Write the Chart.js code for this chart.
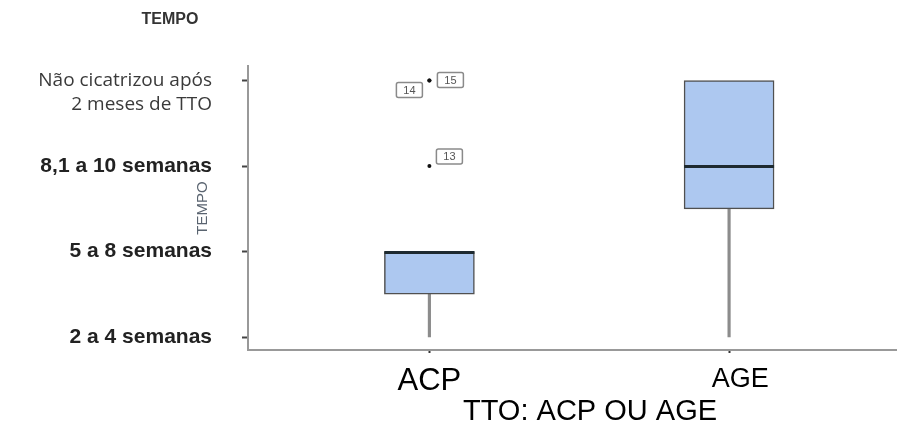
<!DOCTYPE html>
<html>
<head>
<meta charset="utf-8">
<script src="https://cdn.jsdelivr.net/npm/chart.js@4.4.1/dist/chart.umd.min.js"></script>
<style>
  html, body { margin: 0; padding: 0; background: #ffffff; }
  #wrap { width: 900px; height: 421px; position: relative; }
</style>
</head>
<body>
<div id="wrap"><canvas id="c" width="900" height="421"></canvas></div>
<script>
// ---- data ----
const categories = ['ACP', 'AGE'];
const whiskerLow = [1, 1];
const q1 = [1.5, 2.5];
const median = [2, 3];
const q3 = [2, 4];
const whiskerHigh = [2, 4];
const outlierCategory = ['ACP', 'ACP', 'ACP'];
const outlierValue = [3, 4, 4];
const outlierId = ['13', '14', '15'];
const yTickValues = [1, 2, 3, 4];
const yTickLabels = ['2 a 4 semanas', '5 a 8 semanas', '8,1 a 10 semanas', ['', 'Não cicatrizou após', '2 meses de TTO']];
const yTitle = 'TEMPO';
const xTitle = 'TTO: ACP OU AGE';
const topTitle = 'TEMPO';

// ---- build datasets ----
const xPos = c => categories.indexOf(c) + 1;
const boxData = categories.map((c, i) => ({ x: i + 1, y: [q1[i], q3[i]] }));
const lowWhiskerData = categories.map((c, i) => (whiskerLow[i] < q1[i] ? { x: i + 1, y: [whiskerLow[i], q1[i]] } : null)).filter(Boolean);
const highWhiskerData = categories.map((c, i) => (whiskerHigh[i] > q3[i] ? { x: i + 1, y: [q3[i], whiskerHigh[i]] } : null)).filter(Boolean);
const outlierData = outlierValue.map((v, i) => ({ x: xPos(outlierCategory[i]), y: v, id: outlierId[i] }));

// label placement of outlier ids (style only)
const idPlacement = { '13': 'upright', '14': 'downleft', '15': 'right' };

const extras = {
  id: 'extras',
  afterDatasetsDraw(chart) {
    const ctx = chart.ctx;
    const xs = chart.scales.x, ys = chart.scales.y;
    // medians
    ctx.save();
    ctx.strokeStyle = '#1e2a30';
    ctx.lineWidth = 3;
    categories.forEach((c, i) => {
      const cx = xs.getPixelForValue(i + 1);
      const y = Math.round(ys.getPixelForValue(median[i])) + 0.5;
      ctx.beginPath();
      ctx.moveTo(cx - 45, y);
      ctx.lineTo(cx + 45, y);
      ctx.stroke();
    });
    ctx.restore();
    // outlier id boxes
    const meta = chart.getDatasetMeta(3);
    ctx.save();
    ctx.font = '11px "Liberation Sans", Arial, sans-serif';
    ctx.textAlign = 'center';
    ctx.textBaseline = 'middle';
    meta.data.forEach((pt, i) => {
      const id = outlierData[i].id;
      const p = idPlacement[id];
      let bx, by;
      const w = 26, h = 15;
      if (p === 'upright') { bx = pt.x + 7; by = pt.y - 17; }
      else if (p === 'right') { bx = pt.x + 8; by = pt.y - 8; }
      else { bx = pt.x - 33; by = pt.y + 2; }
      ctx.strokeStyle = '#8a8a8a';
      ctx.lineWidth = 1.5;
      ctx.beginPath();
      ctx.roundRect(bx, by, w, h, 2);
      ctx.stroke();
      ctx.fillStyle = '#555';
      ctx.fillText(id, bx + w / 2, by + h / 2 + 0.5);
    });
    ctx.restore();
  },
  afterDraw(chart) {
    const ctx = chart.ctx;
    ctx.save();
    ctx.fillStyle = '#333';
    ctx.font = 'bold 16px "Liberation Sans", Arial, sans-serif';
    ctx.textAlign = 'center';
    ctx.textBaseline = 'middle';
    ctx.fillText(topTitle, 170, 20);
    // x title
    ctx.fillStyle = '#000';
    ctx.font = '29px "Liberation Sans", Arial, sans-serif';
    ctx.fillText(xTitle, 590, 412);
    // rotated y title
    ctx.translate(203, 208);
    ctx.rotate(-Math.PI / 2);
    ctx.fillStyle = '#5a6470';
    ctx.font = '15px "Liberation Sans", Arial, sans-serif';
    ctx.fillText(yTitle, 0, 0);
    ctx.restore();
  }
};

new Chart(document.getElementById('c'), {
  type: 'bar',
  data: {
    datasets: [
      { label: 'box', data: boxData, backgroundColor: '#adc8f0', borderColor: '#505050', borderWidth: 1.5, borderSkipped: false, barThickness: 90, grouped: false, order: 1 },
      { label: 'lowWhisker', data: lowWhiskerData, backgroundColor: '#8c8c8c', borderWidth: 0, barThickness: 2.5, grouped: false, order: 2 },
      { label: 'highWhisker', data: highWhiskerData, backgroundColor: '#8c8c8c', borderWidth: 0, barThickness: 2.5, grouped: false, order: 2 },
      { type: 'scatter', label: 'outliers', data: outlierData, pointRadius: 2, pointBackgroundColor: '#111', pointBorderWidth: 0, order: 0 }
    ]
  },
  options: {
    responsive: false,
    animation: false,
    layout: { padding: { top: 65, right: 0, bottom: 0, left: 0 } },
    plugins: { legend: { display: false }, tooltip: { enabled: false } },
    scales: {
      x: {
        type: 'linear',
        offset: false,
        min: 0.3947,
        max: 2.557,
        afterBuildTicks: s => { s.ticks = categories.map((c, i) => ({ value: i + 1 })); },
        afterFit: s => { s.height = 71; },
        grid: { offset: false, drawOnChartArea: false, drawTicks: true, tickLength: 3, tickColor: '#333', tickWidth: 2 },
        border: { display: true, color: '#999', width: 2 },
        ticks: {
          padding: 10,
          color: '#000',
          maxRotation: 0,
          autoSkip: false,
          callback: v => (v === 2 ? '   ' : '') + categories[v - 1],
          font: ctx => ({ family: '"Liberation Sans", Arial, sans-serif', size: ctx.tick && ctx.tick.value === 1 ? 31 : 27 })
        }
      },
      y: {
        type: 'linear',
        min: 0.848,
        max: 4.175,
        afterBuildTicks: s => { s.ticks = yTickValues.map(v => ({ value: v })); },
        afterFit: s => { s.width = 248; },
        grid: { drawOnChartArea: false, drawTicks: true, tickLength: 6, tickColor: '#444', tickWidth: 2 },
        border: { display: true, color: '#999', width: 2 },
        ticks: {
          padding: 30,
          autoSkip: false,
          callback: v => yTickLabels[yTickValues.indexOf(v)],
          color: ctx => (ctx.tick && ctx.tick.value === 4 ? '#3a3a3a' : '#222'),
          font: ctx => (ctx.tick && ctx.tick.value === 4
            ? { family: '"Open Sans", "Liberation Sans", sans-serif', size: 19, weight: 'normal', lineHeight: 1.25 }
            : { family: '"Liberation Sans", Arial, sans-serif', size: 21, weight: 'bold' })
        }
      }
    }
  },
  plugins: [extras]
});
</script>
</body>
</html>
